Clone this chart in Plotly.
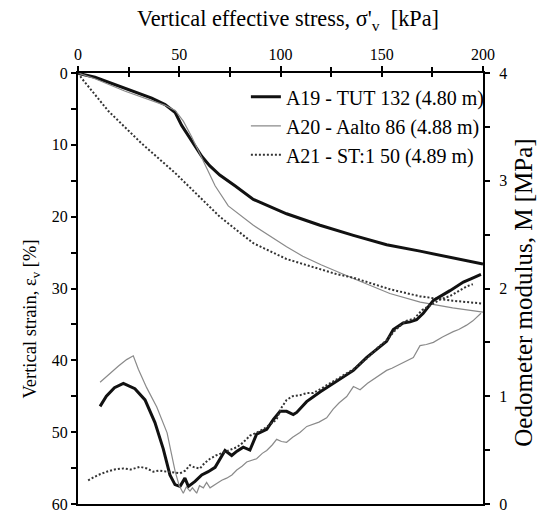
import plotly.graph_objects as go

# ---- Vertical strain vs vertical effective stress ----
stress_a19 = [0, 1, 8.4, 23, 36.4, 43, 48, 51.2, 56.1, 61.1, 65, 70, 77.5, 86.6, 103, 119.5, 136, 152.4, 168.9, 185.3, 200]
strain_a19 = [0, 0.1, 0.6, 2.1, 3.5, 4.4, 5.5, 7.3, 9.4, 11.6, 12.9, 14.2, 15.7, 17.6, 19.6, 21.2, 22.6, 23.9, 24.8, 25.7, 26.6]

stress_a20 = [0, 8.4, 23, 36, 43, 48, 52, 56, 61, 64, 67.7, 74.2, 86.6, 103, 111, 120, 136, 154, 169, 185, 200]
strain_a20 = [0, 0.8, 2.5, 3.8, 4.5, 5.2, 6.7, 8.8, 11.6, 13.5, 15.7, 18.5, 21.2, 24.2, 25.5, 26.7, 28.6, 30.7, 31.9, 32.7, 33.3]

stress_a21 = [0, 2, 15, 31.4, 47.9, 64.3, 70, 86.6, 103, 127.7, 136, 154, 169, 185, 200]
strain_a21 = [0, 0.8, 5.3, 9.8, 13.9, 18.5, 20.0, 23.7, 25.9, 28.0, 28.5, 30.1, 31.1, 31.7, 32.1]

# ---- Oedometer modulus vs vertical effective stress ----
mstress_a19 = [10.9, 14, 18, 22.4, 28.1, 33.1, 38, 42.1, 45.4, 47.9, 50.4, 52.8, 54.5, 57.8, 61.1, 64.3,
               67.7, 70.1, 72.6, 75.9, 78.5, 81.6, 84.9, 88.2, 93.2, 96.5, 99.8, 103, 106.3, 108, 112.9,
               119.5, 124.4, 130, 136, 142.6, 148, 152.4, 155.7, 160.6, 164, 167.2, 170.5, 175.5, 183.7,
               190.3, 194, 199]
modulus_a19 = [0.906, 1.0, 1.08, 1.12, 1.07, 0.966, 0.755, 0.512, 0.27, 0.18, 0.164, 0.24, 0.164, 0.21, 0.27, 0.30,
               0.34, 0.42, 0.497, 0.45, 0.49, 0.527, 0.50, 0.648, 0.694, 0.785, 0.86, 0.86, 0.83, 0.85, 0.95,
               1.04, 1.10, 1.17, 1.24, 1.36, 1.44, 1.51, 1.62, 1.68, 1.69, 1.71, 1.77, 1.89, 1.98,
               2.06, 2.09, 2.13]

mstress_a20 = [10.9, 15, 20, 24, 27.3, 29.8, 33.9, 38.9, 42, 44, 46, 48, 50, 52, 53.5, 55.3, 56.5, 58.6, 60,
               61.9, 63.5, 65.2, 68.5, 71, 73.4, 76, 78.4, 81, 83.3, 86, 88.2, 91, 93.2, 96, 98.1, 100.5, 103,
               106, 109.6, 113, 116.2, 119, 122.8, 126, 129, 132.7, 136, 139.3, 143, 147.5, 152.4, 155, 159,
               162, 165.6, 168.9, 172, 175.5, 180, 185.3, 188, 191.9, 195, 199]
modulus_a20 = [1.13, 1.2, 1.28, 1.34, 1.375, 1.25, 1.08, 0.90, 0.76, 0.66, 0.48, 0.30, 0.17, 0.10, 0.16, 0.12, 0.15, 0.10, 0.17,
               0.15, 0.20, 0.15, 0.19, 0.22, 0.24, 0.27, 0.315, 0.35, 0.39, 0.41, 0.42, 0.47, 0.497, 0.55, 0.60, 0.58, 0.573,
               0.62, 0.664, 0.72, 0.74, 0.76, 0.80, 0.88, 0.94, 0.997, 1.09, 1.06, 1.12, 1.18, 1.24, 1.26, 1.30,
               1.33, 1.36, 1.47, 1.48, 1.50, 1.55, 1.60, 1.62, 1.66, 1.70, 1.77]

mstress_a21 = [5, 6.8, 10, 14.2, 18, 22.4, 26, 30.6, 34, 37.2, 40, 43.8, 47, 50.4, 53, 55.3, 57.5, 60.2, 62.5,
               65.2, 68, 71.8, 75, 78.4, 81.5, 84.9, 88, 91.5, 95, 98.1, 100, 103, 106, 109.6, 113, 116.2, 120,
               124.4, 130, 136, 142.6, 148, 152.4, 157, 162, 166, 170, 175, 179, 183.7, 188, 192, 195]
modulus_a21 = [0.22, 0.24, 0.27, 0.30, 0.32, 0.33, 0.32, 0.345, 0.33, 0.30, 0.31, 0.30, 0.29, 0.285, 0.31, 0.36, 0.34, 0.33, 0.38,
               0.42, 0.45, 0.48, 0.50, 0.527, 0.57, 0.634, 0.66, 0.694, 0.74, 0.785, 0.88, 0.966, 1.0, 1.01, 1.03, 1.03, 1.07,
               1.12, 1.18, 1.25, 1.35, 1.45, 1.52, 1.62, 1.70, 1.72, 1.80, 1.86, 1.90, 1.93, 1.98, 2.02, 2.04]

names = ["A19 - TUT 132 (4.80 m)", "A20 - Aalto 86 (4.88 m)", "A21 - ST:1 50 (4.89 m)"]

SERIF = "Liberation Serif"
styles = [
    dict(color="#111111", width=3),
    dict(color="#8a8a8a", width=1.2),
    dict(color="#333333", width=2, dash="2px,2px"),
]

fig = go.Figure()
strain_sets = [(stress_a19, strain_a19), (stress_a20, strain_a20), (stress_a21, strain_a21)]
modulus_sets = [(mstress_a19, modulus_a19), (mstress_a20, modulus_a20), (mstress_a21, modulus_a21)]

for (xs, ys), name, st in zip(strain_sets, names, styles):
    fig.add_trace(go.Scatter(x=xs, y=ys, mode="lines", name=name, line=st,
                             xaxis="x", yaxis="y", showlegend=True))
for (xs, ys), name, st in zip(modulus_sets, names, styles):
    fig.add_trace(go.Scatter(x=xs, y=ys, mode="lines", name=name, line=st,
                             xaxis="x", yaxis="y2", showlegend=False))

# an empty trace so the inner tick axis is drawn
fig.add_trace(go.Scatter(x=[0, 200], y=[0, 0], xaxis="x2", yaxis="y", mode="lines",
                         line=dict(width=0), showlegend=False, hoverinfo="skip"))

axis_common = dict(showgrid=False, zeroline=False, showline=True, linecolor="black", linewidth=2,
                   tickcolor="black", tickwidth=1.5,
                   tickfont=dict(family=SERIF, size=16, color="black"))

fig.update_layout(
    width=543, height=523,
    margin=dict(l=78, r=60, t=73, b=10),
    paper_bgcolor="white", plot_bgcolor="white",
    font=dict(family=SERIF, color="black"),
    xaxis=dict(
        **axis_common, side="top", range=[0, 200], dtick=50, ticks="outside", ticklen=5,
        minor=dict(dtick=25, ticks="outside", ticklen=4, tickcolor="black"),
        mirror=True,
    ),
    xaxis2=dict(overlaying="x", side="top", range=[0, 200], dtick=25, ticks="inside", ticklen=4,
                tickcolor="black", tickwidth=1.5, showticklabels=False, showgrid=False,
                zeroline=False, showline=False, anchor="y"),
    yaxis=dict(
        **axis_common, range=[60, 0], dtick=10, ticks="outside", ticklen=5,
        minor=dict(dtick=5, ticks="outside", ticklen=5, tickcolor="black"),
    ),
    yaxis2=dict(
        **axis_common, overlaying="y", side="right", range=[0, 4], dtick=1, ticks="outside", ticklen=5,
        minor=dict(dtick=0.5, ticks="outside", ticklen=5, tickcolor="black"),
        ticklabelstandoff=6,
    ),
    legend=dict(x=1.017, y=0.99, xanchor="right", yanchor="top", bgcolor="rgba(0,0,0,0)",
                font=dict(family=SERIF, size=20, color="black"), itemwidth=30,
                tracegroupgap=0),
)

# axis titles
fig.add_annotation(text="Vertical effective stress, σ'<sub>v</sub>  [kPa]", xref="paper", yref="paper",
                   x=0.519, y=1.123, xanchor="center", yanchor="middle", showarrow=False,
                   font=dict(family=SERIF, size=22.3, color="black"))
fig.add_annotation(text="Vertical strain, ε<sub>v</sub> [%]", xref="paper", yref="paper",
                   x=-0.114, y=0.43, xanchor="center", yanchor="middle", showarrow=False, textangle=-90,
                   font=dict(family=SERIF, size=18.5, color="black"))
fig.add_annotation(text="Oedometer modulus, M [MPa]", xref="paper", yref="paper",
                   x=1.101, y=0.49, xanchor="center", yanchor="middle", showarrow=False, textangle=-90,
                   font=dict(family=SERIF, size=25, color="black"))

fig.write_html("out.html")
